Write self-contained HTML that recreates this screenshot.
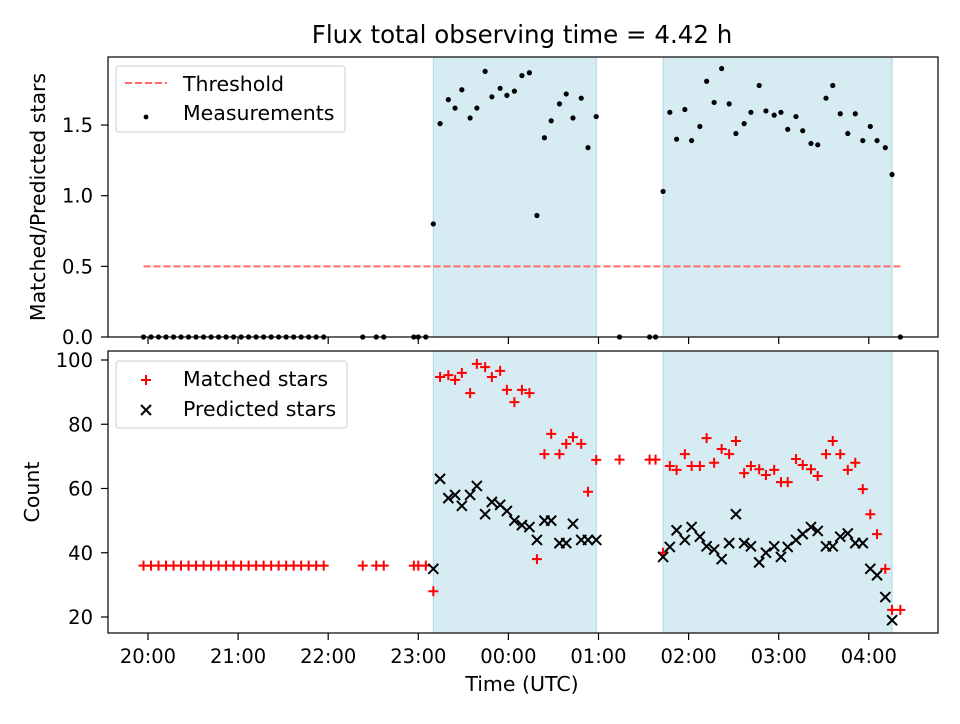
<!DOCTYPE html>
<html><head><meta charset="utf-8"><style>
body{margin:0;background:#fff;font-family:"DejaVu Sans","Liberation Sans",sans-serif}
svg text{font-family:"DejaVu Sans","Liberation Sans",sans-serif;fill:#000}
</style></head><body>
<svg id="c" width="960" height="720" xmlns="http://www.w3.org/2000/svg"></svg>
<script>
const zeroTimes=[-3,2,7,12,17,22,27,32,37,42,47,52,57,62,67,72,77,82,87,92,97,102,107,112,117,143,152,157,177,180,185,314,334,338,501];
const measTimes=[190,194.5,200,204.5,209,214.5,219,224.5,229,234.5,239,244,249,254,259,264,268.5,274,278.5,283,288.5,293,298.5,343,347.5,352,357.5,362,367.5,372,377,382,387,391.5,397,401.5,407,411.5,417,421.5,426,431.5,436,441.5,446,451.5,456,461,466,471,476,481,485.5,491,495.5];
const measValues=[0.80,1.51,1.68,1.62,1.75,1.55,1.62,1.88,1.70,1.76,1.71,1.74,1.85,1.87,0.86,1.41,1.53,1.65,1.72,1.55,1.69,1.34,1.56,1.03,1.59,1.40,1.61,1.39,1.49,1.81,1.66,1.90,1.65,1.44,1.51,1.59,1.78,1.60,1.57,1.59,1.47,1.56,1.46,1.37,1.36,1.69,1.78,1.58,1.44,1.58,1.39,1.49,1.39,1.34,1.15];
const matchedTimes=[-3,2,7,12,17,22,27,32,37,42,47,52,57,62,67,72,77,82,87,92,97,102,107,112,117,143,152,157,177,180,185,190,194.5,200,204.5,209,214.5,219,224.5,229,234.5,239,244,249,254,259,264,268.5,274,278.5,283,288.5,293,298.5,314,334,338,343,347.5,352,357.5,362,367.5,372,377,382,387,391.5,397,401.5,407,411.5,417,421.5,426,431.5,436,441.5,446,451.5,456,461,466,471,476,481,485.5,491,495.5,501];
const matchedValues=[36,36,36,36,36,36,36,36,36,36,36,36,36,36,36,36,36,36,36,36,36,36,36,36,36,36,36,36,36,36,36,28,94.7,95.3,93.8,96,89.7,98.8,97.8,94.7,96.6,90.7,86.9,90.7,89.7,38,70.7,77,70.7,73.9,76,73.9,59,68.9,69,69,69,40,67,65.8,70.7,67,67,75.7,68,72.3,70.7,74.8,64.8,67,66,64.2,65.8,62,62,69.2,67.3,66,63.9,70.7,74.8,70.7,65.8,68,59.8,52,45.8,35,22.2,22.2];
const predTimes=measTimes;
const predValues=[35,63,57,58,54.6,58,60.8,52,55.8,54.9,53,50,48.6,48,44,50,50,43,43,49,44,44,44,38.7,41.8,47,44,48,45,42,41,38,43,52,43,42,37,40,42,38.7,41.8,44,45.8,48,46.8,42,42,45,46,43,43,35,33,26.2,19];
const spans=[[190,298.5],[343,495.5]];
const threshold=[-3,501,0.5];
const xTickLabels=["20:00","21:00","22:00","23:00","00:00","01:00","02:00","03:00","04:00"];
const xTickMins=[0,60,120,180,240,300,360,420,480];
const topTicks=[0,0.5,1.0,1.5];
const botTicks=[20,40,60,80,100];

const NS="http://www.w3.org/2000/svg";
const svg=document.getElementById('c');
function el(t,a,p){const e=document.createElementNS(NS,t);for(const k in a)e.setAttribute(k,a[k]);(p||svg).appendChild(e);return e;}
const L=108,R=938;
const X=m=>148+m*90.1/60;
const Y1=v=>337-v*141.3;
const Y2=c=>360+(100-c)*3.2125;
const T1=57,B1=337,T2=351,B2=633;
const TF=19.5, LF=20.5;

let t=el('text',{x:522,y:43,'font-size':'24.5','text-anchor':'middle'});t.textContent='Flux total observing time = 4.42 h';


[[T1,B1,'top-panel'],[T2,B2,'bottom-panel']].forEach(([tp,bt,nm])=>{
  const g=el('g',{});
  spans.forEach(s=>{const r=el('rect',{x:X(s[0]),y:tp,width:X(s[1])-X(s[0]),height:bt-tp,fill:'#add8e6','fill-opacity':0.5,stroke:'#add8e6'},g);
    });
});
let th=el('line',{x1:X(threshold[0]),x2:X(threshold[1]),y1:Y1(threshold[2]),y2:Y1(threshold[2]),stroke:'#ff6b6b','stroke-width':2,'stroke-dasharray':'7,3'});

zeroTimes.forEach(m=>{const c=el('circle',{cx:X(m),cy:Y1(0),r:2.6,fill:'#000'});
  });
measTimes.forEach((m,i)=>{const c=el('circle',{cx:X(m),cy:Y1(measValues[i]),r:2.6,fill:'#000'});
  });
matchedTimes.forEach((m,i)=>{const x=X(m),y=Y2(matchedValues[i]);
  const p=el('path',{d:`M${x-5},${y}H${x+5}M${x},${y-5}V${y+5}`,stroke:'#f00','stroke-width':2});
  });
predTimes.forEach((m,i)=>{const x=X(m),y=Y2(predValues[i]);
  const p=el('path',{d:`M${x-5},${y-5}L${x+5},${y+5}M${x-5},${y+5}L${x+5},${y-5}`,stroke:'#000','stroke-width':2});
  });
[[T1,B1,'top-axes-frame'],[T2,B2,'bottom-axes-frame']].forEach(([tp,bt,nm])=>{
  const r=el('rect',{x:L,y:tp,width:R-L,height:bt-tp,fill:'none',stroke:'#000','stroke-width':1.2});
  
});
topTicks.forEach(v=>{const y=Y1(v);el('line',{x1:L-7,x2:L,y1:y,y2:y,stroke:'#000','stroke-width':1.2});
  const tx=el('text',{x:93,y:y+7,'font-size':TF,'text-anchor':'end'});tx.textContent=v.toFixed(1);
  });
botTicks.forEach(v=>{const y=Y2(v);el('line',{x1:L-7,x2:L,y1:y,y2:y,stroke:'#000','stroke-width':1.2});
  const tx=el('text',{x:93,y:y+7,'font-size':TF,'text-anchor':'end'});tx.textContent=v;
  });
xTickMins.forEach((m,i)=>{const x=X(m);el('line',{x1:x,x2:x,y1:B1,y2:B1+7,stroke:'#000','stroke-width':1.2});el('line',{x1:x,x2:x,y1:B2,y2:B2+7,stroke:'#000','stroke-width':1.2});
  const tx=el('text',{x:x,y:663,'font-size':TF,'text-anchor':'middle'});tx.textContent=xTickLabels[i];
  });
let a=el('text',{x:522,y:691,'font-size':LF,'text-anchor':'middle'});a.textContent='Time (UTC)';

a=el('text',{x:0,y:0,'font-size':LF,'text-anchor':'middle',transform:'translate(45,197) rotate(-90)'});a.textContent='Matched/Predicted stars';

a=el('text',{x:0,y:0,'font-size':LF,'text-anchor':'middle',transform:'translate(39,492) rotate(-90)'});a.textContent='Count';

let lg=el('g',{});
el('rect',{x:116,y:66,width:229,height:66,rx:3,fill:'#fff','fill-opacity':0.8,stroke:'#ccc'},lg);
el('line',{x1:125,x2:167,y1:83,y2:83,stroke:'#ff6b6b','stroke-width':2,'stroke-dasharray':'7,3'},lg);
t=el('text',{x:183,y:91,'font-size':LF},lg);t.textContent='Threshold';
el('circle',{cx:146,cy:117,r:2.4,fill:'#000'},lg);
t=el('text',{x:183,y:120,'font-size':LF},lg);t.textContent='Measurements';
lg=el('g',{});
el('rect',{x:116,y:361,width:231,height:67,rx:3,fill:'#fff','fill-opacity':0.8,stroke:'#ccc'},lg);
el('path',{d:'M141,380H151M146,375V385',stroke:'#f00','stroke-width':2},lg);
t=el('text',{x:183,y:386,'font-size':LF},lg);t.textContent='Matched stars';
el('path',{d:'M141,405L151,415M141,415L151,405',stroke:'#000','stroke-width':2},lg);
t=el('text',{x:183,y:416,'font-size':LF},lg);t.textContent='Predicted stars';
</script>
</body></html>
